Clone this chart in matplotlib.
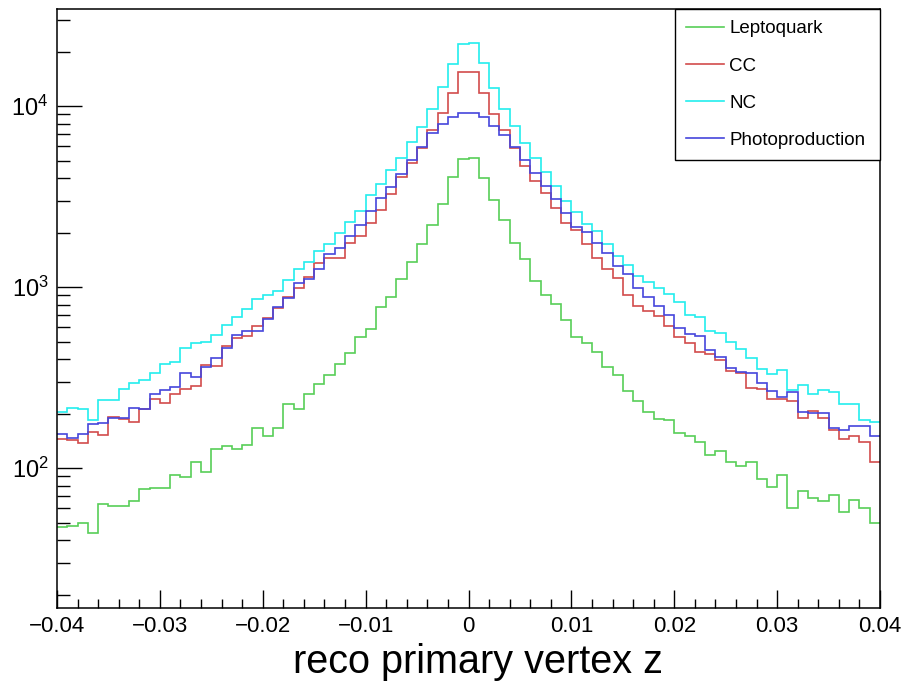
import matplotlib
matplotlib.use("Agg")
import matplotlib.pyplot as plt
import numpy as np
from matplotlib.lines import Line2D
from matplotlib.ticker import FixedLocator, LogLocator, MultipleLocator, NullFormatter

plt.rcParams['font.family'] = ['Liberation Sans', 'DejaVu Sans']
plt.rcParams['mathtext.fontset'] = 'custom'
plt.rcParams['mathtext.rm'] = 'Liberation Sans'

# 80 bins of reco primary vertex z, from -0.04 to 0.04
z_min, z_max, n_bins = -0.04, 0.04, 80

leptoquark = [47, 48, 50, 44, 63, 62, 62, 66, 77, 78,
              78, 91, 89, 108, 95, 127, 132, 128, 134, 167,
              151, 167, 226, 211, 257, 290, 326, 374, 434, 531,
              586, 778, 877, 1103, 1369, 1728, 2192, 2863, 4067, 5110,
              5160, 3986, 3013, 2336, 1757, 1422, 1083, 903, 806, 657,
              531, 489, 436, 361, 326, 267, 234, 205, 186, 184,
              157, 151, 139, 118, 124, 108, 103, 108, 87, 79,
              91, 60, 75, 68, 66, 71, 57, 67, 60, 50]

cc = [144, 143, 138, 159, 152, 191, 186, 179, 211, 240,
      230, 255, 275, 283, 369, 368, 474, 521, 534, 609,
      674, 766, 881, 984, 1131, 1363, 1441, 1439, 1743, 1920,
      2266, 2664, 3266, 4067, 4825, 5838, 7369, 9184, 11843, 15380,
      15430, 11843, 9033, 7369, 5838, 4662, 3867, 3295, 2722, 2266,
      2065, 1722, 1441, 1257, 1117, 903, 788, 740, 692, 611,
      531, 489, 439, 427, 395, 345, 334, 277, 272, 242,
      241, 234, 188, 207, 189, 162, 144, 151, 139, 108]

nc = [204, 214, 213, 184, 238, 237, 273, 294, 306, 333,
      374, 385, 462, 489, 497, 540, 615, 683, 753, 859,
      903, 957, 1100, 1257, 1375, 1591, 1735, 1983, 2296, 2630,
      3225, 3694, 4431, 5140, 6302, 7686, 9663, 12782, 17130, 21924,
      22372, 17216, 12620, 9650, 7785, 6222, 5135, 4335, 3614, 2987,
      2606, 2221, 2039, 1739, 1484, 1323, 1155, 1070, 984, 915,
      830, 703, 683, 571, 555, 495, 455, 404, 354, 332,
      348, 270, 289, 255, 270, 262, 226, 225, 185, 179]

photoproduction = [154, 147, 154, 176, 177, 190, 189, 214, 213, 256,
                   270, 281, 334, 320, 363, 407, 463, 543, 571, 570,
                   663, 779, 875, 1048, 1107, 1262, 1531, 1636, 1913, 2200,
                   2630, 3115, 3555, 4195, 5030, 5913, 7068, 7925, 8727, 9170,
                   9190, 8661, 7785, 6916, 5958, 5030, 4281, 3614, 3052, 2554,
                   2153, 2021, 1743, 1547, 1306, 1176, 983, 877, 788, 703,
                   596, 548, 538, 449, 412, 356, 338, 337, 296, 267,
                   246, 262, 204, 202, 201, 166, 162, 171, 170, 151]

labels = ['Leptoquark', 'CC', 'NC', 'Photoproduction']
colors = ['#58ce58', '#d24c4c', '#22eeee', '#4646dc']
series = [leptoquark, cc, nc, photoproduction]

x_ticks = [-0.04, -0.03, -0.02, -0.01, 0, 0.01, 0.02, 0.03, 0.04]
x_tick_labels = ['\u22120.04', '\u22120.03', '\u22120.02', '\u22120.01', '0',
                 '0.01', '0.02', '0.03', '0.04']
y_ticks = [100, 1000, 10000]
y_tick_labels = [r'$\mathregular{10^{2}}$', r'$\mathregular{10^{3}}$',
                 r'$\mathregular{10^{4}}$']

edges = np.linspace(z_min, z_max, n_bins + 1)

fig = plt.figure(figsize=(9.04, 6.84), dpi=100)
ax = fig.add_axes([57 / 904, 1 - 608 / 684, 823 / 904, 599 / 684])

for vals, col in zip(series, colors):
    ax.stairs(vals, edges, baseline=None, color=col, lw=1.2)

ax.set_xlim(z_min, z_max)
ax.set_yscale('log')
ax.set_ylim(16.85, 34400)

# ROOT-like axes: ticks inside, only bottom and left
ax.xaxis.set_major_locator(FixedLocator(x_ticks))
ax.set_xticklabels(x_tick_labels)
ax.xaxis.set_minor_locator(MultipleLocator(0.002))
ax.yaxis.set_major_locator(FixedLocator(y_ticks))
ax.set_yticklabels(y_tick_labels)
ax.yaxis.set_minor_locator(LogLocator(base=10, subs=np.arange(2, 10)))
ax.yaxis.set_minor_formatter(NullFormatter())

ax.tick_params(axis='x', which='major', direction='in', length=13, width=1.0,
               labelsize=16, pad=6, top=False)
ax.tick_params(axis='x', which='minor', direction='in', length=6.5, width=1.0, top=False)
ax.tick_params(axis='y', which='major', direction='in', length=18, width=1.0,
               labelsize=17, pad=6, right=False)
ax.tick_params(axis='y', which='minor', direction='in', length=9, width=1.0, right=False)

for s in ax.spines.values():
    s.set_linewidth(1.1)

ax.set_xlabel('reco primary vertex z', fontsize=28.5)
ax.xaxis.set_label_coords(0.512, -0.058)

handles = [Line2D([], [], color=c, lw=1.2) for c in colors]
leg = ax.legend(handles, labels, loc='upper left', bbox_to_anchor=(0.751, 0, 0.249, 1.0),
                mode='expand', borderaxespad=0, fancybox=False, edgecolor='black',
                framealpha=1, fontsize=13.5, handlelength=2.0, handletextpad=0.3,
                labelspacing=1.07, borderpad=0.6)
leg.get_frame().set_linewidth(1.0)

plt.savefig('out.png', dpi=100)
plt.close()
